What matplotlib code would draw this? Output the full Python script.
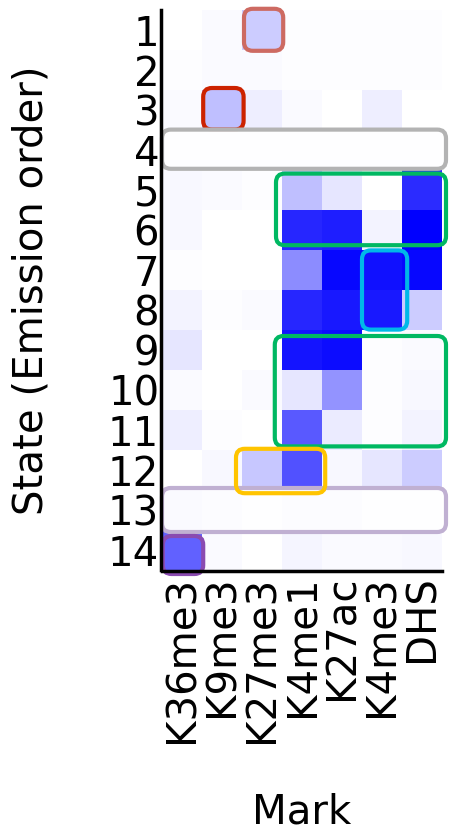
import matplotlib
matplotlib.use("Agg")
import matplotlib.pyplot as plt
import numpy as np
from matplotlib.colors import LinearSegmentedColormap
from matplotlib.patches import FancyBboxPatch

marks = ["K36me3", "K9me3", "K27me3", "K4me1", "K27ac", "K4me3", "DHS"]
states = [str(i) for i in range(1, 15)]

# emission intensities (0 = white, 1 = full blue), rows = states 1..14
emissions = [
    [0.00, 0.02, 0.20, 0.01, 0.01, 0.01, 0.01],
    [0.01, 0.02, 0.02, 0.01, 0.01, 0.01, 0.01],
    [0.02, 0.25, 0.07, 0.02, 0.00, 0.07, 0.00],
    [0.01, 0.01, 0.01, 0.01, 0.01, 0.01, 0.01],
    [0.03, 0.02, 0.01, 0.25, 0.10, 0.00, 0.83],
    [0.03, 0.00, 0.00, 0.85, 0.88, 0.05, 1.00],
    [0.01, 0.00, 0.00, 0.45, 0.97, 0.93, 0.97],
    [0.05, 0.01, 0.02, 0.85, 0.90, 0.90, 0.20],
    [0.10, 0.00, 0.00, 0.92, 0.95, 0.01, 0.02],
    [0.02, 0.00, 0.02, 0.10, 0.42, 0.01, 0.03],
    [0.07, 0.01, 0.00, 0.65, 0.08, 0.01, 0.05],
    [0.00, 0.03, 0.22, 0.68, 0.03, 0.10, 0.20],
    [0.05, 0.02, 0.01, 0.03, 0.02, 0.01, 0.01],
    [0.62, 0.02, 0.00, 0.04, 0.02, 0.02, 0.03],
]

# highlight boxes: (x0, y0, x1, y1, edge colour, white fill alpha), drawn in order
boxes = [
    (2.05, -0.03, 3.03, 1.02, "#cd6a62", 0.0),
    (1.03, 1.95, 2.04, 2.99, "#cc2200", 0.0),
    (0.00, 2.99, 7.10, 3.97, "#b3b3b3", 0.92),
    (2.85, 4.09, 7.10, 5.88, "#00b862", 0.0),
    (5.00, 6.01, 6.13, 7.99, "#00b8e8", 0.0),
    (2.82, 8.15, 7.10, 10.91, "#00b862", 0.0),
    (0.00, 11.95, 7.10, 13.05, "#c0b0d2", 0.6),
    (1.85, 10.97, 4.08, 12.08, "#ffc400", 0.0),
    (0.02, 13.15, 1.03, 14.10, "#8a4bb0", 0.0),
]

plt.rcParams["font.family"] = ["DejaVu Sans"]
fig = plt.figure(figsize=(4.49, 8.35), dpi=100)
W, H = 449, 835
ax = fig.add_axes([162 / W, 1 - 570 / H, 280 / W, 560 / H])

cmap = LinearSegmentedColormap.from_list("wb", ["#ffffff", "#0000ff"])
data = np.array(emissions)
ax.imshow(data, cmap=cmap, vmin=0, vmax=1, aspect="auto",
          extent=(0, len(marks), len(states), 0), interpolation="nearest")
ax.set_xlim(0, len(marks))
ax.set_ylim(len(states), 0)

for i, (x0, y0, x1, y1, col, fa) in enumerate(boxes):
    p = FancyBboxPatch((x0, y0), x1 - x0, y1 - y0,
                       boxstyle="round,pad=0,rounding_size=0.22",
                       fc=(1, 1, 1, fa), ec=col, lw=3.0,
                       clip_on=False, zorder=3 + i * 0.01)
    ax.add_patch(p)

FS = 29
ax.set_xticks(np.arange(len(marks)) + 0.5)
ax.set_xticklabels(marks)
ax.set_yticks(np.arange(len(states)) + 0.5)
ax.set_yticklabels(states)
ax.tick_params(length=0, pad=1, labelsize=FS)
ax.tick_params(axis="x", labelrotation=90, pad=3)
for s in ["top", "right"]:
    ax.spines[s].set_visible(False)
for s in ["left", "bottom"]:
    ax.spines[s].set_linewidth(2.5)
    ax.spines[s].set_zorder(4)
ax.spines["left"].set_position(("outward", 1))
ax.spines["bottom"].set_position(("outward", 1))

ax.set_xlabel("Mark", fontsize=FS)
ax.set_ylabel("State (Emission order)", fontsize=FS)
ax.xaxis.set_label_coords(0.5, -(793 - 570) / 560)
ax.yaxis.set_label_coords((52 - 162) / 280, 0.5)

fig.savefig("out.png", dpi=100)
